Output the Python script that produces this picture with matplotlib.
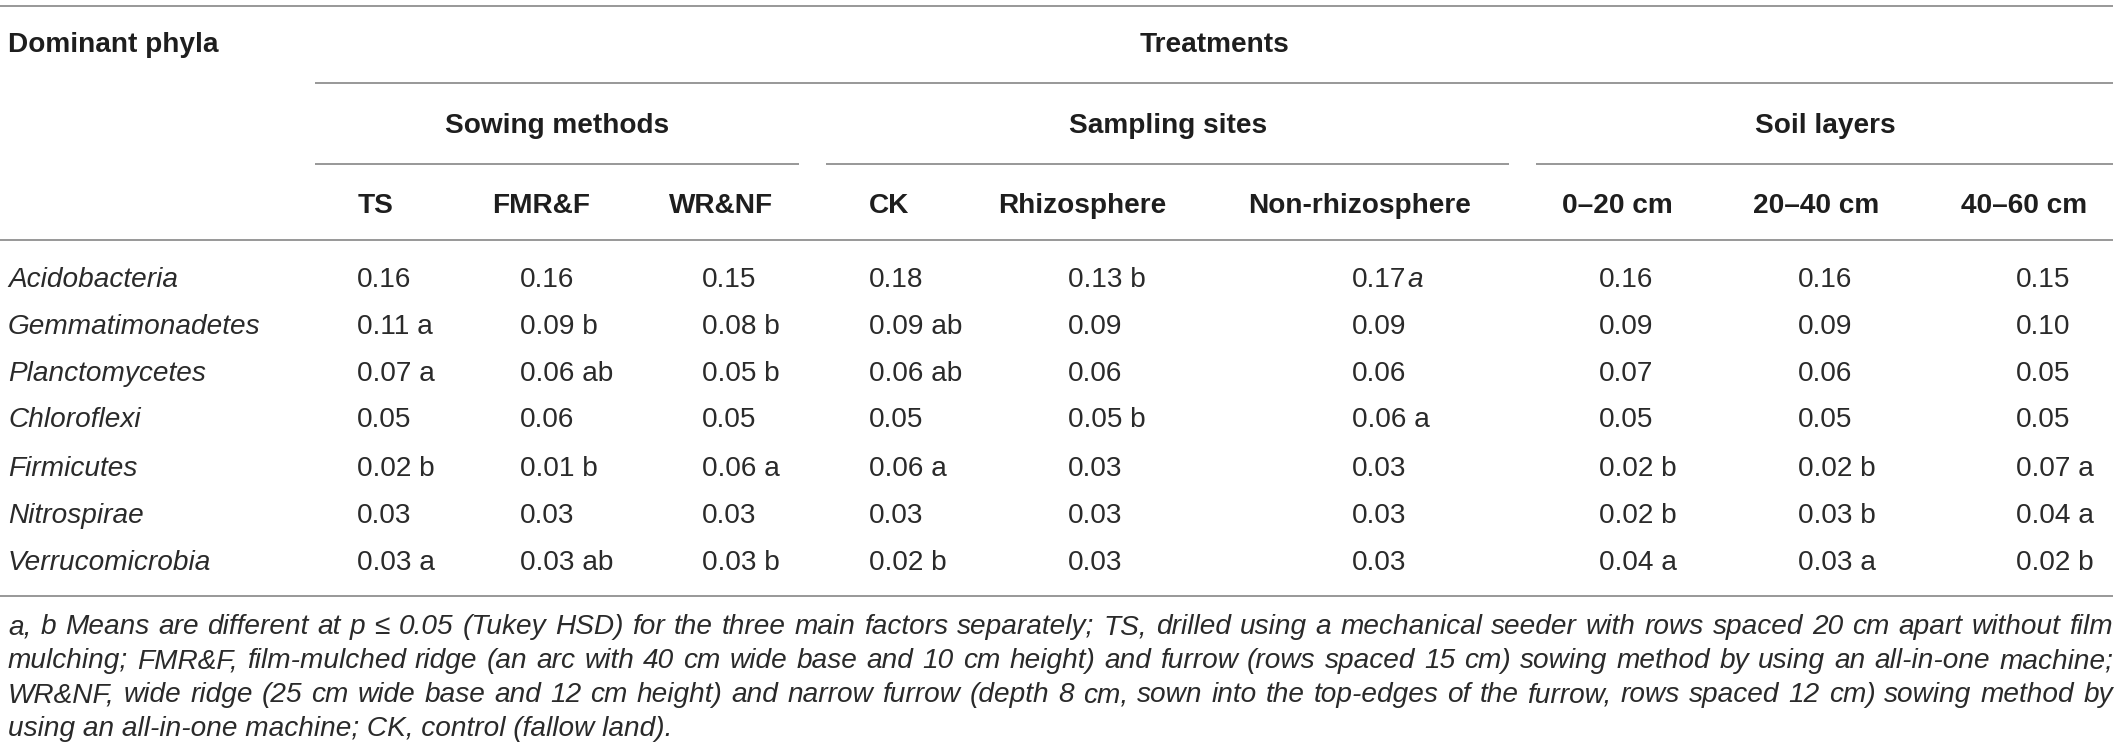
import re
import matplotlib
matplotlib.use('Agg')
import matplotlib.pyplot as plt

W, H = 2121, 756
plt.rcParams['font.family'] = ['Liberation Sans', 'DejaVu Sans']

# table content
phyla = ['Acidobacteria', 'Gemmatimonadetes', 'Planctomycetes', 'Chloroflexi',
         'Firmicutes', 'Nitrospirae', 'Verrucomicrobia']
groups = ['Sowing methods', 'Sampling sites', 'Soil layers']
columns = ['TS', 'FMR&F', 'WR&NF', 'CK', 'Rhizosphere', 'Non-rhizosphere',
           '0–20 cm', '20–40 cm', '40–60 cm']
ts = ['0.16', '0.11 a', '0.07 a', '0.05', '0.02 b', '0.03', '0.03 a']
fmrf = ['0.16', '0.09 b', '0.06 ab', '0.06', '0.01 b', '0.03', '0.03 ab']
wrnf = ['0.15', '0.08 b', '0.05 b', '0.05', '0.06 a', '0.03', '0.03 b']
ck = ['0.18', '0.09 ab', '0.06 ab', '0.05', '0.06 a', '0.03', '0.02 b']
rhizo = ['0.13 b', '0.09', '0.06', '0.05 b', '0.03', '0.03', '0.03']
nonrhizo = ['0.17a', '0.09', '0.06', '0.06 a', '0.03', '0.03', '0.03']
cm0_20 = ['0.16', '0.09', '0.07', '0.05', '0.02 b', '0.02 b', '0.04 a']
cm20_40 = ['0.16', '0.09', '0.06', '0.05', '0.02 b', '0.03 b', '0.03 a']
cm40_60 = ['0.15', '0.10', '0.05', '0.05', '0.07 a', '0.04 a', '0.02 b']
footnote = [
    'a, b Means are different at p ≤ 0.05 (Tukey HSD) for the three main factors separately; '
    'TS, drilled using a mechanical seeder with rows spaced 20 cm apart without film',
    'mulching; FMR&F, film-mulched ridge (an arc with 40 cm wide base and 10 cm height) and '
    'furrow (rows spaced 15 cm) sowing method by using an all-in-one machine;',
    'WR&NF, wide ridge (25 cm wide base and 12 cm height) and narrow furrow (depth 8 cm, sown '
    'into the top-edges of the furrow, rows spaced 12 cm) sowing method by',
    'using an all-in-one machine; CK, control (fallow land).',
]

# layout in pixels
fs = 28 * 72 / 100
ink = '#1e1e1e'
body = '#2a2a2a'
rule = '#9a9a9a'
lw = 2 * 72 / 100
col_center = [376, 541, 721, 889, 1082, 1360, 1617, 1816, 2024]
col_left = [357, 520, 702, 869, 1068, 1352, 1599, 1798, 2016]
group_center = [557, 1168, 1825]
group_span = [(315, 799), (826, 1509), (1536, 2113)]
row_base = [287, 334, 381, 427, 476, 523, 570]

fig = plt.figure(figsize=(W / 100, H / 100), dpi=100)
ax = fig.add_axes([0, 0, 1, 1])
ax.set_xlim(0, W)
ax.set_ylim(H, 0)
ax.axis('off')

def hline(y, x0, x1):
    ax.plot([x0, x1], [y, y], color=rule, lw=lw, solid_capstyle='butt')

hline(6, 0, 2113)
hline(83, 315, 2113)
for x0, x1 in group_span:
    hline(164, x0, x1)
hline(240, 0, 2113)
hline(596, 0, 2113)

bold = dict(fontsize=fs, fontweight='bold', color=ink, va='baseline')
ax.text(8, 52, 'Dominant phyla', ha='left', **bold)
ax.text(1214, 52, 'Treatments', ha='center', **bold)
for g, xc in zip(groups, group_center):
    ax.text(xc, 133, g, ha='center', **bold)
for c, xc in zip(columns, col_center):
    ax.text(xc, 213, c, ha='center', **bold)

fig.canvas.draw()
renderer = fig.canvas.get_renderer()

table = [ts, fmrf, wrnf, ck, rhizo, nonrhizo, cm0_20, cm20_40, cm40_60]
for name, y in zip(phyla, row_base):
    ax.text(8, y, name, fontsize=fs, style='italic', color=body, va='baseline')
for vals, x in zip(table, col_left):
    for v, y in zip(vals, row_base):
        m = re.match(r'^([\d.]+)([a-z]+)$', v)
        if m:
            t = ax.text(x, y, m.group(1), fontsize=fs, color=body, va='baseline')
            w = t.get_window_extent(renderer).width
            ax.text(x + w + 1, y, m.group(2), fontsize=fs, style='italic',
                    color=body, va='baseline')
        else:
            ax.text(x, y, v, fontsize=fs, color=body, va='baseline')

# justified footnote
foot_base = [634, 668, 702, 736]
x0, x1 = 8, 2113
ffs = fs
for i, (line, y) in enumerate(zip(footnote, foot_base)):
    if i == len(footnote) - 1:
        ax.text(x0, y, line, fontsize=ffs, style='italic', color=body, va='baseline')
        continue
    words = line.split(' ')
    arts = [ax.text(0, y, w, fontsize=ffs, style='italic', color=body, va='baseline')
            for w in words]
    widths = [a.get_window_extent(renderer).width for a in arts]
    gap = (x1 - x0 - sum(widths)) / (len(words) - 1)
    x = x0
    for a, w in zip(arts, widths):
        a.set_x(x)
        x += w + gap

fig.savefig('out.png', dpi=100, facecolor='white')
